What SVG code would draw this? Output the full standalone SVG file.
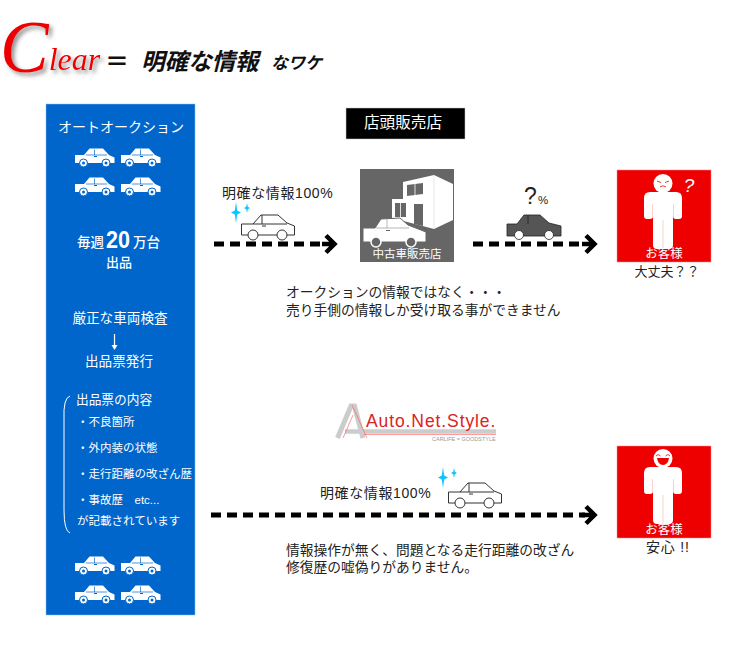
<svg xmlns="http://www.w3.org/2000/svg" width="756" height="660" viewBox="0 0 756 660">
<style>
text{font-family:"Liberation Sans","Noto Sans CJK JP",sans-serif;fill:#222}
.c{text-anchor:middle}
.p{fill:#fff}
.m{fill:#fff;font-weight:500}
.rate{font-size:14px;letter-spacing:0.6px}
.note{font-size:13.750px}
.list{font-size:11.500px;fill:#fff}
.dash{fill:none;stroke:#000;stroke-width:5;stroke-dasharray:10 6}
.head{fill:none;stroke:#000;stroke-width:4.500}
.title{font-family:"Liberation Serif","Noto Sans CJK JP",serif;font-style:italic;font-weight:bold;fill:#111}
</style>
<defs>
<filter id="sh" x="-20%" y="-20%" width="150%" height="150%"><feDropShadow dx="3" dy="3" stdDeviation="2" flood-color="#777" flood-opacity="0.8"/></filter>
<filter id="soft" x="-10%" y="-10%" width="120%" height="120%"><feGaussianBlur stdDeviation="0.500"/></filter>
<symbol id="carw" viewBox="0 0 40 19" overflow="visible">
<path fill="#fff" d="M0,7 H9 L14.500,0.500 H28 L34,7 L39.500,9.500 V15 H0 Z"/>
<path fill="none" stroke="#0066cc" stroke-width="0.700" d="M19.500,1.500 V7 M11,7 H32"/>
<rect x="19" y="8" width="3" height="1" fill="#0066cc"/>
<circle cx="8.500" cy="15" r="4" fill="#fff" stroke="#0066cc" stroke-width="1"/>
<circle cx="31" cy="15" r="4" fill="#fff" stroke="#0066cc" stroke-width="1"/>
<circle cx="8.500" cy="15" r="1.500" fill="#0066cc"/>
<circle cx="31" cy="15" r="1.500" fill="#0066cc"/>
</symbol>
<symbol id="caro" viewBox="0 0 54 26" overflow="visible">
<path fill="#fff" stroke="#333" stroke-width="1" d="M0.500,10 H12 L20,1 H37 L46,9 L53.500,12 V21 H0.500 Z"/>
<path fill="none" stroke="#333" stroke-width="1" d="M21,1 V10 M12,10 H46"/>
<rect x="21" y="11.500" width="4" height="1" fill="#333"/>
<circle cx="12" cy="21" r="5" fill="#fff" stroke="#333" stroke-width="1"/>
<circle cx="41" cy="21" r="5" fill="#fff" stroke="#333" stroke-width="1"/>
</symbol>
<symbol id="spark" viewBox="0 0 22 26" overflow="visible">
<path fill="#0cc4ff" d="M5,0 L6.200,8.500 L10,10.500 L6.200,12.500 L5,21 L3.800,12.500 L0,10.500 L3.800,8.500 Z"/>
<path fill="#0cc4ff" d="M16,1 L16.800,4.800 L19,6 L16.800,7.200 L16,11 L15.200,7.200 L13,6 L15.200,4.800 Z"/>
</symbol>
<symbol id="person" viewBox="0 0 40 76" overflow="visible">
<circle cx="20" cy="9.500" r="9.500" fill="#fff"/>
<path fill="#fff" filter="url(#soft)" d="M7,18 H33 Q39,18 39,24 V42 Q39,45 36,45 H33 Q30,45 30,42 V71 Q30,75 26,75 H14 Q10,75 10,71 V42 Q10,45 7,45 H4 Q1,45 1,42 V24 Q1,18 7,18 Z"/>
<path fill="none" stroke="#f6b0b0" stroke-width="0.600" d="M20,46 V75 M9.500,30 V44 M30.500,30 V44"/>
</symbol>
</defs>

<g id="title">
<text x="0" y="72" style="font-family:'Liberation Serif',serif;font-style:italic;fill:#ee0000" filter="url(#sh)"><tspan font-size="73">C</tspan><tspan dy="-2" font-size="32">lear</tspan></text>
<text x="105" y="70" style="font-family:'Liberation Serif','Noto Sans CJK JP',serif;font-weight:bold;font-size:24px;fill:#111">＝</text>
<text x="141" y="70" class="title" font-size="23.500">明確な情報</text>
<text x="271" y="69" class="title" font-size="17">なワケ</text>
</g>

<g id="auction-panel">
<rect x="46" y="104" width="149" height="511" fill="#0066cc" stroke="#8fbdee" stroke-width="0.500"/>
<text x="121" y="132" class="c p" font-size="14">オートオークション</text>
<use href="#carw" x="75" y="148" width="40" height="19"/>
<use href="#carw" x="121" y="148" width="40" height="19"/>
<use href="#carw" x="75" y="177" width="40" height="19"/>
<use href="#carw" x="121" y="177" width="40" height="19"/>
<text x="77" y="247" font-size="13.500" class="m">毎週</text>
<text x="106" y="248" font-size="23" style="fill:#fff;font-weight:bold" textLength="24" lengthAdjust="spacingAndGlyphs">20</text>
<text x="133" y="247" font-size="13.500" class="m">万台</text>
<text x="119" y="267" class="c m" font-size="13">出品</text>
<text x="120" y="323" class="c p" font-size="13.600">厳正な車両検査</text>
<path d="M114.500,334 V347" stroke="#fff" stroke-width="1.200" fill="none"/>
<path d="M111.500,345 L114.500,350 L117.500,345 Z" fill="#fff"/>
<text x="119" y="366" class="c p" font-size="13.600">出品票発行</text>
<path d="M70,396 Q63,398 64,420 V510 Q64,531 70,533" fill="none" stroke="#fff" stroke-width="1"/>
<text x="76" y="404" font-size="12.700" class="p">出品票の内容</text>
<text x="77" y="426" class="list">・不良箇所</text>
<text x="77" y="452" class="list">・外内装の状態</text>
<text x="77" y="478" class="list">・走行距離の改ざん歴</text>
<text x="77" y="504" class="list" xml:space="preserve">・事故歴　etc...</text>
<text x="77" y="525" class="list">が記載されています</text>
<use href="#carw" x="75" y="556" width="40" height="19"/>
<use href="#carw" x="121" y="556" width="40" height="19"/>
<use href="#carw" x="75" y="585" width="40" height="19"/>
<use href="#carw" x="121" y="585" width="40" height="19"/>
</g>

<g id="shop-label">
<rect x="346" y="108" width="119" height="31" fill="#000" stroke="#ccc" stroke-width="0.500"/>
<text x="403" y="128" class="c p" font-size="15.600">店頭販売店</text>
</g>

<g id="shop">
<rect x="360" y="169" width="94" height="93" fill="#666"/>
<path fill="#fff" d="M392,199 H403 V182 L434,175 L453,184 V220 L434,229 L392,218 Z"/>
<path fill="#666" d="M407,185 L423,183 V194 L407,196 Z M395,203 H406 V217 H395 Z M414,204 H423 V226 L414,224 Z"/>
<path fill="none" stroke="#fff" stroke-width="0.800" d="M415,184 V195 M400.500,203 V217"/>
<path fill="none" stroke="#ccc" stroke-width="0.500" d="M434,175 V229"/>
<path fill="#fff" stroke="#666" stroke-width="1" d="M363,228 H375 L381,219 L400,218 L408,225 L426,232 V242 H363 Z"/>
<path fill="none" stroke="#999" stroke-width="0.700" d="M387,219 V228 M376,228 H409"/>
<rect x="386" y="230" width="4" height="1" fill="#666"/>
<circle cx="376" cy="242" r="5" fill="#666" stroke="#fff" stroke-width="1.500"/>
<circle cx="411" cy="242" r="5" fill="#666" stroke="#fff" stroke-width="1.500"/>
<text x="407" y="258" class="c p" font-size="11.500">中古車販売店</text>
</g>

<g id="customer-top">
<rect x="617" y="170" width="94" height="92" fill="#ee0000" stroke="#f88" stroke-width="0.500"/>
<use href="#person" x="643" y="174" width="40" height="76"/>
<path d="M657,181 L661,182.500 M669,181 L665,182.500" stroke="#ee0000" stroke-width="0.800" fill="none"/>
<path d="M660,187 Q663,184.500 666,187" stroke="#ee0000" stroke-width="0.800" fill="none"/>
<text x="689" y="192" class="c p" font-size="19" font-style="italic">?</text>
<text x="664" y="258" class="c p" font-size="12.500">お客様</text>
</g>
<text x="667" y="276" class="c" font-size="13">大丈夫？？</text>

<g id="customer-bottom">
<rect x="617" y="446" width="94" height="92" fill="#ee0000" stroke="#f88" stroke-width="0.500"/>
<use href="#person" x="643" y="449" width="40" height="76"/>
<path d="M656,456 Q658,453 660.500,456 M665.500,456 Q668,453 670,456" stroke="#ee0000" stroke-width="0.800" fill="none"/>
<path d="M657,458 H669 Q668,465 663,465 Q658,465 657,458 Z" fill="#ee0000"/>
<text x="664" y="534" class="c p" font-size="12.500">お客様</text>
</g>
<text x="646" y="552" font-size="14" letter-spacing="0.800" xml:space="preserve">安心 !!</text>

<g id="connectors">
<path class="dash" d="M214,244 H326"/>
<path class="head" d="M326,235.500 L334.500,244 L326,252.500 M322,244 H333"/>
<path class="dash" d="M473,244 H585"/>
<path class="head" d="M586,235.500 L594.500,244 L586,252.500 M582,244 H593"/>
<path class="dash" d="M211,515 H585"/>
<path class="head" d="M586,506.500 L594.500,515 L586,523.500 M582,515 H593"/>
</g>

<g id="info-top">
<text x="222" y="198" class="rate">明確な情報100%</text>
<use href="#spark" x="231" y="202" width="22" height="26"/>
<use href="#caro" x="241" y="214" width="54" height="26"/>
</g>

<g id="unknown-car">
<text x="524" y="204" font-size="23">?</text>
<text x="538" y="204" font-size="11.500">%</text>
<path fill="#555" stroke="#222" stroke-width="0.800" d="M507,224 H517 L524,215 H540 L549,223 L561,226 V236 H507 Z"/>
<path d="M528,215 V224" stroke="#222" stroke-width="0.800"/>
<circle cx="519" cy="235" r="4.500" fill="#fff" stroke="#222" stroke-width="0.800"/>
<circle cx="549" cy="235" r="4.500" fill="#fff" stroke="#222" stroke-width="0.800"/>
</g>

<g id="note-top">
<text x="286" y="297" class="note">オークションの情報ではなく・・・</text>
<text x="286" y="315" class="note">売り手側の情報しか受け取る事ができません</text>
</g>

<g id="logo">
<path fill="none" stroke="#ccc" stroke-width="5" d="M337.500,438 L351,406 H354.500 L363,438"/>
<path fill="none" stroke="#ccc" stroke-width="4.500" d="M345,431.500 H496"/>
<path fill="none" stroke="#f55" stroke-width="0.600" d="M352,405 L367,438 M353,415 L343,438 M364,434.500 H496"/>
<text x="366" y="427" style="fill:#dd2222;letter-spacing:0.900px" font-size="17.500">Auto.Net.Style.</text>
<text x="432" y="441" style="fill:#999" font-size="5.500">CARLIFE = GOODSTYLE</text>
</g>

<g id="info-bottom">
<text x="320" y="498" class="rate">明確な情報100%</text>
<use href="#spark" x="438" y="467" width="22" height="26"/>
<use href="#caro" x="448" y="482" width="54" height="26"/>
</g>

<g id="note-bottom">
<text x="286" y="555" class="note">情報操作が無く、問題となる走行距離の改ざん</text>
<text x="286" y="572" class="note">修復歴の嘘偽りがありません。</text>
</g>
</svg>
